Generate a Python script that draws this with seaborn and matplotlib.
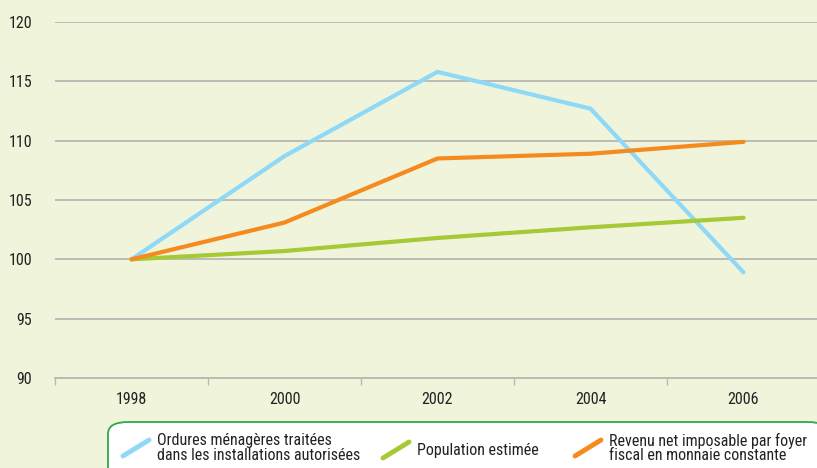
import matplotlib
matplotlib.use("Agg")
import matplotlib.pyplot as plt
from matplotlib.patches import FancyBboxPatch
from matplotlib.lines import Line2D
import seaborn as sns
import pandas as pd

# Data (indice base 100 en 1998)
years = ["1998", "2000", "2002", "2004", "2006"]
ordures = [100.0, 108.7, 115.8, 112.7, 98.9]
population = [100.0, 100.7, 101.8, 102.7, 103.5]
revenu = [100.0, 103.1, 108.5, 108.9, 109.9]

labels = [
    "Ordures ménagères traitées\ndans les installations autorisées",
    "Population estimée",
    "Revenu net imposable par foyer\nfiscal en monnaie constante",
]
colors = ["#8ed8f8", "#a6c936", "#f58a1f"]
y_ticks = [90, 95, 100, 105, 110, 115, 120]

BG = "#f0f4da"

sns.set_theme(style="white")
plt.rcParams["font.family"] = ["Roboto Condensed", "Liberation Sans", "DejaVu Sans"]

df = pd.DataFrame({
    "annee": years * 3,
    "indice": ordures + population + revenu,
    "serie": [labels[0]] * 5 + [labels[1]] * 5 + [labels[2]] * 5,
})

fig = plt.figure(figsize=(8.17, 4.68), dpi=100, facecolor=BG)
ax = fig.add_axes([55 / 817, 1 - 378 / 468, 765 / 817, 356 / 468])
ax.set_facecolor(BG)

sns.lineplot(data=df, x="annee", y="indice", hue="serie", hue_order=labels,
             palette=colors, linewidth=3, legend=False, ax=ax, sort=False)
# orange on top of the others, as in the reference
for line, z in zip(ax.get_lines(), [2, 3, 4]):
    line.set_zorder(z)
    line.set_solid_joinstyle("miter")

ax.set_xlim(-0.5, len(years) - 0.5)
ax.set_ylim(90, 120)
ax.set_yticks(y_ticks)
ax.set_xticks(range(len(years)))
ax.set_xticklabels(years)
ax.set_xticks([i - 0.5 for i in range(len(years) + 1)], minor=True)
ax.set_xlabel("")
ax.set_ylabel("")
ax.grid(axis="y", color="#b8b8b4", linewidth=1.3)
ax.set_axisbelow(True)
for side in ["top", "right", "left"]:
    ax.spines[side].set_visible(False)
ax.spines["bottom"].set_color("#b8b8b4")
ax.spines["bottom"].set_linewidth(1.3)
ax.tick_params(axis="y", length=0, pad=16.5, labelsize=11.5, labelcolor="#222222")
ax.tick_params(axis="x", which="major", length=0, pad=10, labelsize=11.5, labelcolor="#222222")
ax.tick_params(axis="x", which="minor", bottom=True, length=5, width=1, color="#b8b8b4")

# legend box drawn in pixel coordinates of the figure
W, H = 817, 468
box = FancyBboxPatch((108 / W, -0.05), 720 / W, (H - 422) / H + 0.05,
                     boxstyle="round,pad=0,rounding_size=0.025",
                     transform=fig.transFigure, facecolor="white",
                     edgecolor="#2ea84a", linewidth=1.3, clip_on=False)
fig.add_artist(box)

entries = [(123, 157, 448), (383, 417, 450), (575, 609, 448)]
for (hx, tx, ty), lab, col in zip(entries, labels, colors):
    fig.add_artist(Line2D([hx / W, (hx + 26) / W], [1 - (ty + 8) / H, 1 - (ty - 8) / H],
                          color=col, linewidth=3.5, solid_capstyle="round",
                          transform=fig.transFigure))
    fig.text(tx / W, 1 - ty / H, lab, ha="left", va="center", fontsize=11.5,
             linespacing=0.92, color="#222222")

fig.savefig("out.png", dpi=100, facecolor=BG)
